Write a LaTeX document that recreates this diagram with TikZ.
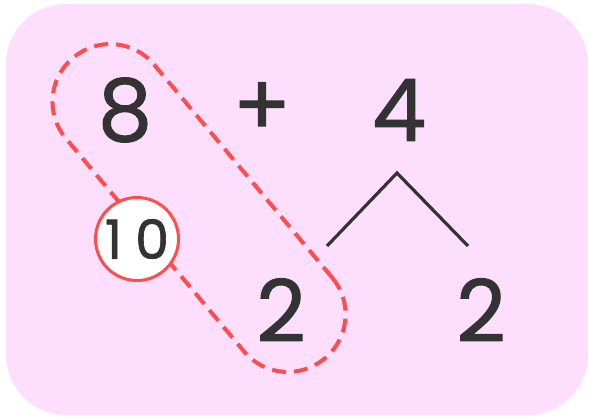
\documentclass[tikz,border=0pt]{standalone}
\usepackage{fontspec}
\setmainfont{Poppins}
\newfontfamily\numfont[FakeBold=1.2]{Poppins}
\definecolor{bgpink}{RGB}{253,223,253}
\definecolor{loopred}{RGB}{255,77,77}
\definecolor{ink}{RGB}{51,51,51}
\begin{document}
\begin{tikzpicture}[x=1pt,y=1pt,
  bignum/.style={text=ink,inner sep=0pt,font=\numfont\fontsize{86}{86}\selectfont},
  smallnum/.style={text=ink,inner sep=0pt,font=\numfont\fontsize{54}{54}\selectfont},
  branch/.style={draw=ink,line width=3.2pt},
  loopline/.style={draw=loopred,line width=4pt,dash pattern=on 14pt off 8pt}]
\useasboundingbox (0,0) rectangle (589,416);
\fill[bgpink,rounded corners=60pt] (6,1) rectangle (588,412);
% dashed capsule
\node[loopline,rectangle,rounded corners=57pt,minimum width=392pt,minimum height=115pt,inner sep=0pt,rotate=-50.1] (loop) at (199,208) {};
% numbers
\node[bignum] (eight) at (125,306) {8};
\node[bignum] (plus) at (262,307) {+};
\node[bignum] (four) at (399,306) {4};
\node[bignum] (twoL) at (281,106) {2};
\node[bignum] (twoR) at (481,106) {2};
\node[circle,draw=loopred,line width=3pt,fill=white,minimum size=83pt,inner sep=0pt] (ten) at (137,177) {};
\node[smallnum] (tenlbl) at (ten.center) {1\kern13pt0};
% branches
\coordinate (peak) at (397,243);
\coordinate (legL) at (327,170);
\coordinate (legR) at (468,170);
\draw[branch] (legL) -- (peak) -- (legR);
\end{tikzpicture}
\end{document}
